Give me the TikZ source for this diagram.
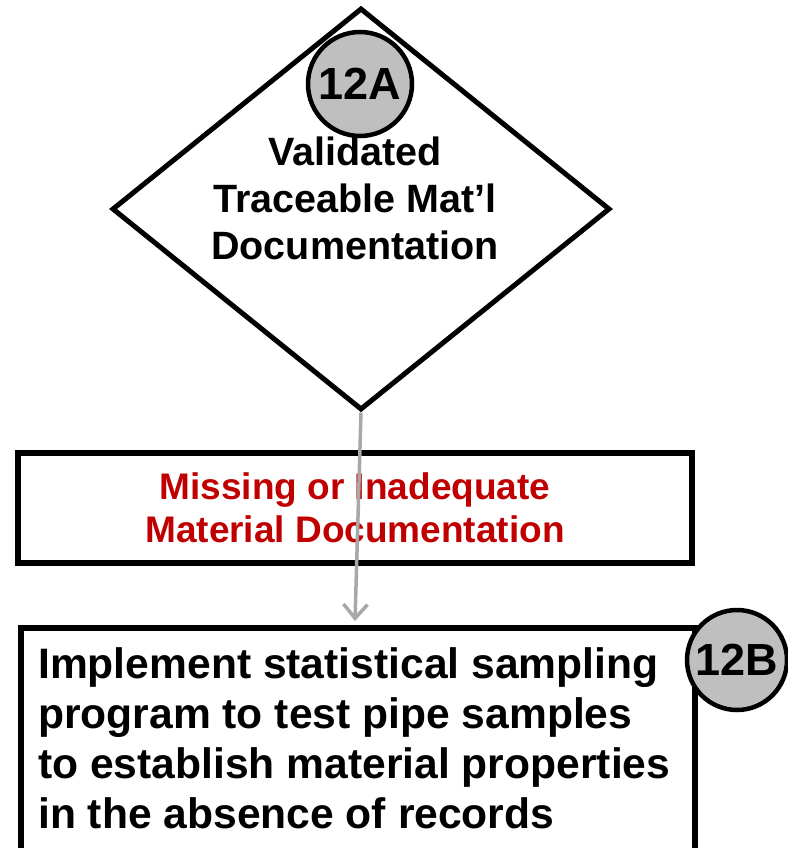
\documentclass[tikz,border=0pt]{standalone}
\usepackage{fontspec}
\setmainfont{Liberation Sans}
\usetikzlibrary{shapes.geometric,arrows.meta}
\definecolor{docred}{RGB}{192,0,0}
\definecolor{tagfill}{RGB}{191,191,191}
\definecolor{flowgray}{RGB}{168,168,168}

\begin{document}
\begin{tikzpicture}[x=1pt,y=1pt,
  tag/.style={circle,draw,line width=4.5pt,fill=tagfill,inner sep=0pt,minimum size=100pt,
    font=\fontsize{45}{45}\selectfont\bfseries},
  boxline/.style={rectangle,draw,line width=6pt,inner sep=0pt}]
\useasboundingbox (0,0) rectangle (787,-848);
\fill[white] (0,0) rectangle (787,-848);

\node [diamond,draw,line width=5pt,inner sep=0pt,minimum width=498pt,minimum height=402pt] (valid) at (361,-209) {};
\node [anchor=north,inner sep=0pt,align=center,font=\fontsize{39.5}{47}\selectfont\bfseries] (validtxt) at (355,-137)
  {Validated\\Traceable Mat’l\\Documentation};
\node [tag,minimum size=104pt] (tagA) at (360,-84) {12A};

\node [boxline,minimum width=674pt,minimum height=110pt,align=center,text=docred,
  font=\fontsize{37}{43}\selectfont\bfseries] (missing) at (355,-508)
  {Missing or Inadequate\\Material Documentation};

\node [boxline,anchor=north west,minimum width=674pt,minimum height=280pt] (impl) at (18,-625) {};
\node [anchor=north west,inner sep=0pt,align=left,font=\fontsize{42.6}{50}\selectfont\bfseries] (impltxt) at (38,-647)
  {Implement statistical sampling\\program to test pipe samples\\to establish material properties\\in the absence of records};
\node [tag] (tagB) at (737,-660) {12B};

\coordinate (implin) at (355,-621);
\draw [flowgray,line width=3.5pt,-{Straight Barb[length=14pt,width=24pt]}] (valid.south) -- (implin);

\end{tikzpicture}
\end{document}
